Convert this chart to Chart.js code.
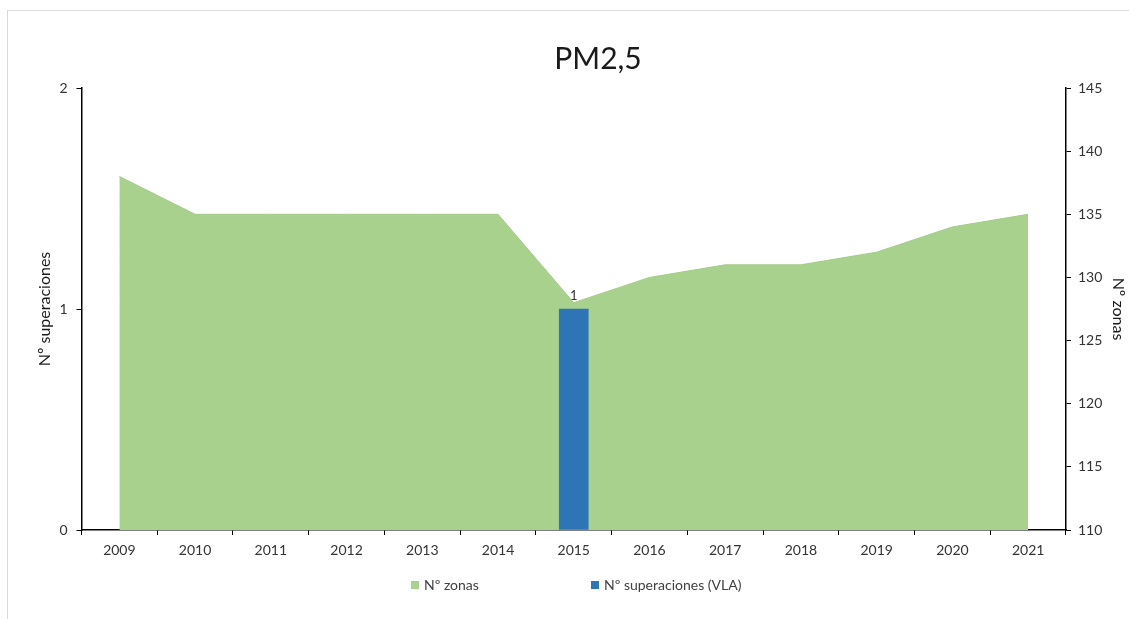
<!DOCTYPE html>
<html>
<head>
<meta charset="utf-8">
<script src="https://cdn.jsdelivr.net/npm/chart.js@4.4.0/dist/chart.umd.min.js"></script>
<style>
  html, body { margin: 0; padding: 0; background: #fff; }
  #wrap { position: relative; width: 1129px; height: 619px; }
</style>
</head>
<body>
<div id="wrap"><canvas id="chart" width="1129" height="619"></canvas></div>
<script>
const years = ['2009', '2010', '2011', '2012', '2013', '2014', '2015', '2016', '2017', '2018', '2019', '2020', '2021'];
const zonas = [138, 135, 135, 135, 135, 135, 128, 130, 131, 131, 132, 134, 135];
const superaciones = [0, 0, 0, 0, 0, 0, 1, 0, 0, 0, 0, 0, 0];
const leftRange = [0, 2];
const rightRange = [110, 145];

const chartTitle = 'PM2,5';
const fontFamily = 'Lato, "Open Sans", sans-serif';

// frame, title, data labels and the bottom legend
const extras = {
  id: 'extras',
  beforeDraw(chart) {
    const ctx = chart.ctx;
    ctx.save();
    ctx.strokeStyle = '#d9d9d9';
    ctx.lineWidth = 1;
    ctx.strokeRect(7.5, 10.5, 1300, 800);
    ctx.restore();
  },
  afterDraw(chart) {
    const ctx = chart.ctx;
    ctx.save();
    ctx.fillStyle = '#1a1a1a';
    ctx.font = '30px ' + fontFamily;
    ctx.textAlign = 'center';
    ctx.textBaseline = 'alphabetic';
    ctx.fillText(chartTitle, 598, 69);

    // value label over the bars
    const meta = chart.getDatasetMeta(0);
    ctx.font = '13px ' + fontFamily;
    ctx.fillStyle = '#333';
    ctx.textBaseline = 'bottom';
    meta.data.forEach((bar, i) => {
      const v = superaciones[i];
      if (v > 0) ctx.fillText(String(v), bar.x, bar.y - 7);
    });

    // legend: Nº zonas first, then the bars
    const items = [chart.data.datasets[1], chart.data.datasets[0]];
    const starts = [411, 591];
    ctx.font = '14px ' + fontFamily;
    ctx.textAlign = 'left';
    ctx.textBaseline = 'middle';
    items.forEach((ds, k) => {
      const x = starts[k];
      ctx.fillStyle = ds.backgroundColor;
      ctx.fillRect(x, 581, 8, 8);
      ctx.fillStyle = '#404040';
      ctx.fillText(ds.label, x + 13, 585);
    });
    ctx.restore();
  }
};

const tickFont = { family: fontFamily, size: 14 };
const titleFont = { family: fontFamily, size: 16 };

new Chart(document.getElementById('chart'), {
  data: {
    labels: years,
    datasets: [
      {
        type: 'bar',
        label: 'Nº superaciones (VLA)',
        data: superaciones.map(v => (v > 0 ? v : null)),
        yAxisID: 'y',
        backgroundColor: '#2e75b6',
        barThickness: 29,
        order: 0
      },
      {
        type: 'line',
        label: 'Nº zonas',
        data: zonas,
        yAxisID: 'y1',
        fill: 'start',
        backgroundColor: '#a9d18e',
        borderColor: '#a3cb89',
        borderWidth: 1,
        pointRadius: 0,
        tension: 0,
        order: 1
      }
    ]
  },
  options: {
    responsive: false,
    devicePixelRatio: 1,
    animation: false,
    layout: { padding: { top: 88, left: 0, right: 0, bottom: 49 } },
    plugins: {
      legend: { display: false },
      title: { display: false },
      tooltip: { enabled: false }
    },
    scales: {
      x: {
        offset: true,
        grid: { drawOnChartArea: false, color: '#000', tickLength: 5, offset: true },
        border: { color: '#000', width: 1.5 },
        ticks: { color: '#333', font: tickFont, padding: 7, maxRotation: 0 },
        afterFit: s => { s.height = 40; }
      },
      y: {
        position: 'left',
        min: leftRange[0],
        max: leftRange[1],
        grid: { drawOnChartArea: false, color: '#000', tickLength: 5 },
        border: { color: '#000', width: 1.5 },
        ticks: { stepSize: 1, color: '#333', font: tickFont, padding: 9 },
        title: { display: true, text: 'Nº superaciones', color: '#1a1a1a', font: titleFont, padding: { top: 35, bottom: 0 } },
        afterFit: s => { s.width = 81.5; }
      },
      y1: {
        position: 'right',
        min: rightRange[0],
        max: rightRange[1],
        grid: { drawOnChartArea: false, color: '#000', tickLength: 5 },
        border: { color: '#000', width: 1.5 },
        ticks: { stepSize: 5, color: '#333', font: tickFont, padding: 7 },
        title: { display: true, text: 'Nº zonas', color: '#1a1a1a', font: titleFont, padding: { top: 1, bottom: 0 } },
        afterFit: s => { s.width = 63; }
      }
    }
  },
  plugins: [extras]
});
</script>
</body>
</html>
